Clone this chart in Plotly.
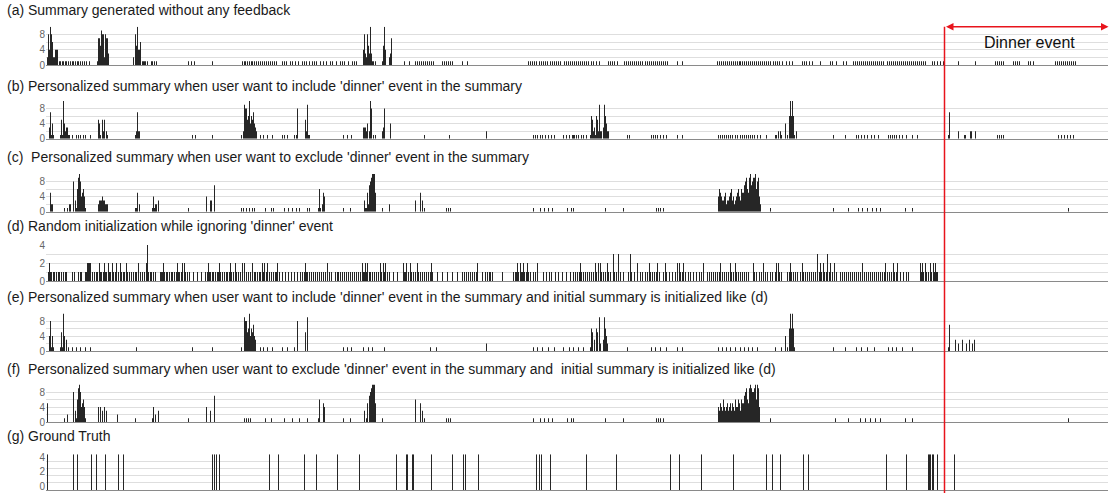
import plotly.graph_objects as go

# ---------------- data (frame index, summary count) ----------------
TITLES = [
    "(a) Summary generated without any feedback",
    "(b) Personalized summary when user want to include 'dinner' event in the summary",
    "(c)  Personalized summary when user want to exclude 'dinner' event in the summary",
    "(d) Random initialization while ignoring 'dinner' event",
    "(e) Personalized summary when user want to include 'dinner' event in the summary and initial summary is initialized like (d)",
    "(f)  Personalized summary when user want to exclude 'dinner' event in the summary and  initial summary is initialized like (d)",
    "(g) Ground Truth",
]
DINNER_START = 944
DINNER_END = 1108
DINNER_LABEL = "Dinner event"

A_X = [47, 48, 49, 50, 51, 52, 53, 54, 55, 56, 57, 97, 98, 99, 100, 101, 102, 103, 104, 105, 106, 107, 108,
       133, 135, 136, 137, 138, 139, 140, 363, 364, 365, 366, 367, 368, 369, 370, 371, 383, 384, 385, 389, 390, 391]
A_H = [2, 8, 4, 10, 8, 6, 2, 2, 4, 4, 4, 1, 7, 7, 5, 9, 8, 8, 2, 8, 7, 7, 3,
       2, 8, 5, 10, 4, 4, 6, 4, 8, 3, 2, 8, 5, 3, 10, 3, 5, 10, 4, 2, 3, 7]
A_ONES = [59, 60, 62, 63, 65, 66, 68, 70, 72, 73, 75, 77, 78, 80, 82, 84, 86, 89, 142, 143, 144, 145, 147, 151, 152,
          154, 156, 188, 191, 194, 212, 242, 244, 245, 247, 249, 251, 252, 254, 256, 258, 260, 262, 264, 266, 268,
          270, 272, 274, 276, 282, 284, 286, 290, 292, 295, 298, 302, 304, 306, 309, 312, 314, 316, 320, 323, 326,
          330, 332, 336, 340, 342, 344, 348, 352, 354, 356, 372, 373, 375, 382, 404, 409, 415, 417, 419, 421, 423,
          425, 427, 429, 431, 433, 442, 444, 446, 448, 450, 452, 462, 467, 528, 530, 532, 534, 536, 539, 541, 543,
          545, 547, 550, 552, 554, 556, 558, 560, 564, 566, 568, 570, 572, 574, 576, 578, 580, 582, 584, 586, 588,
          591, 593, 596, 599, 608, 610, 612, 614, 617, 624, 626, 628, 630, 632, 634, 636, 638, 640, 642, 645, 647,
          649, 651, 653, 655, 657, 659, 661, 663, 665, 667, 677, 682, 717, 719, 721, 723, 725, 727, 729, 731, 733,
          735, 737, 739, 740, 742, 744, 746, 748, 750, 752, 754, 756, 758, 760, 762, 764, 766, 768, 770, 773, 775,
          777, 779, 782, 786, 789, 792, 802, 804, 806, 809, 812, 820, 830, 832, 836, 843, 846, 853, 855, 857, 859,
          861, 863, 865, 867, 869, 871, 873, 875, 877, 879, 881, 883, 887, 889, 891, 893, 895, 897, 899, 901, 903,
          905, 907, 909, 911, 913, 915, 917, 919, 921, 923, 925, 932, 934, 937, 940, 943, 958, 975, 995, 997, 999,
          1001, 1003, 1013, 1015, 1017, 1019, 1028, 1030, 1033, 1055, 1057, 1059, 1061, 1063, 1065, 1067, 1069,
          1071, 1073, 1075]

B_X = [49, 50, 52, 61, 63, 64, 65, 66, 67, 98, 99, 102, 103, 104, 106, 136, 137, 138, 139,
       243, 244, 245, 246, 247, 248, 249, 250, 251, 252, 253, 254, 255, 256, 297, 305, 306, 307,
       363, 364, 365, 366, 367, 369, 370, 371, 382, 383, 384, 390, 486,
       591, 592, 593, 594, 596, 597, 598, 599, 600, 601, 603, 604, 605, 606, 607, 608,
       778, 780, 785, 789, 790, 791, 792, 793, 796, 949, 958, 970, 971, 975]
B_H = [3, 7, 4, 5, 10, 4, 2, 3, 3, 5, 4, 5, 2, 5, 2, 2, 7, 2, 2,
       2, 9, 8, 8, 5, 6, 10, 4, 6, 5, 7, 4, 3, 2, 8, 5, 2, 9,
       3, 3, 3, 2, 4, 2, 10, 8, 2, 3, 8, 4, 2,
       6, 5, 2, 3, 6, 5, 2, 9, 2, 2, 3, 9, 6, 4, 2, 2,
       2, 2, 4, 6, 10, 6, 10, 6, 2, 7, 2, 2, 2, 2]
B_ONES = [51, 53, 60, 62, 68, 69, 72, 76, 78, 80, 83, 85, 90, 100, 107, 135, 192, 195, 212, 241, 260, 263, 267,
          272, 282, 284, 287, 294, 296, 308, 309, 343, 347, 351, 373, 375, 424, 449, 533, 535, 537, 540, 542, 545,
          548, 551, 554, 563, 566, 569, 572, 573, 574, 576, 578, 581, 583, 586, 590, 595, 627, 629, 651, 653, 655,
          657, 660, 663, 666, 677, 682, 718, 720, 722, 724, 726, 728, 730, 732, 735, 737, 740, 742, 744, 746, 748,
          750, 752, 754, 757, 760, 766, 775, 776, 781, 787, 794, 833, 845, 856, 858, 861, 864, 867, 871, 874, 878,
          888, 890, 892, 894, 896, 899, 902, 906, 912, 917, 948, 964, 965, 997, 999, 1001, 1003, 1058, 1061, 1064,
          1067, 1070, 1073]

C_X = [50, 51, 52, 69, 70, 73, 75, 77, 78, 79, 80, 81, 82, 83, 84, 98, 99, 100, 101, 102, 103, 104, 105, 106, 107,
       137, 139, 153, 155, 156, 158, 206, 210, 211, 214, 319, 322, 323, 324,
       364, 367, 368, 369, 370, 371, 372, 373, 374, 375, 389, 415, 420, 422,
       718, 719, 720, 721, 722, 723, 724, 725, 726, 727, 728, 729, 730, 731, 732, 733, 734, 735, 736, 737, 738,
       739, 740, 741, 742, 743, 744, 745, 746, 747, 748, 749, 750, 751, 752, 753, 754, 755, 756, 757, 758, 759, 760]
C_H = [5, 2, 2, 2, 2, 8, 3, 6, 9, 10, 8, 4, 5, 6, 4, 2, 3, 3, 3, 4, 3, 3, 2, 2, 2,
       5, 2, 4, 2, 2, 3, 4, 3, 3, 7, 6, 2, 5, 4,
       3, 5, 2, 7, 8, 9, 10, 10, 10, 5, 2, 3, 5, 3,
       4, 6, 5, 4, 3, 3, 4, 5, 2, 3, 3, 4, 5, 6, 3, 4, 2, 3, 4, 5, 6,
       4, 3, 6, 5, 5, 7, 8, 9, 6, 5, 9, 10, 7, 8, 9, 9, 10, 6, 8, 9, 4, 2]
C_ONES = [64, 67, 76, 85, 135, 136, 152, 154, 188, 241, 243, 246, 249, 252, 254, 265, 271, 273, 284, 288, 292, 296,
          299, 307, 309, 318, 320, 343, 350, 365, 366, 382, 424, 446, 448, 450, 533, 540, 544, 548, 552, 567, 571,
          573, 605, 623, 656, 658, 660, 663, 770, 833, 848, 858, 862, 867, 872, 876, 880, 905, 912, 1068]

D_X = [49, 87, 88, 89, 90, 99, 104, 108, 112, 116, 120, 126, 138, 146, 147, 163, 177, 182, 184, 208, 219, 230,
       235, 242, 244, 252, 262, 264, 267, 277, 305, 327, 362, 365, 367, 380, 383, 385, 403, 406, 410, 417, 431,
       477, 517, 520, 523, 527, 537, 580, 595, 598, 600, 607, 613, 618, 630, 637, 649, 657, 665, 677, 679, 683,
       703, 720, 730, 735, 753, 763, 776, 778, 790, 802, 817, 820, 823, 827, 830, 834, 862, 885, 893, 897, 920,
       922, 925, 930, 933, 935]
D_H = [2, 2, 2, 2, 2, 2, 2, 2, 2, 2, 2, 2, 2, 2, 4, 2, 2, 2, 2, 2, 2, 2,
       2, 2, 2, 2, 2, 2, 2, 2, 2, 2, 2, 2, 2, 2, 2, 2, 2, 2, 2, 2, 2,
       2, 2, 2, 2, 2, 2, 2, 2, 2, 2, 2, 3, 3, 3, 2, 2, 2, 2, 2, 2, 2,
       2, 2, 2, 2, 2, 2, 2, 2, 2, 2, 3, 2, 2, 3, 2, 2, 2, 2, 2, 2, 2,
       2, 2, 2, 2, 2]
D_ONES = [48, 50, 51, 53, 54, 56, 58, 59, 61, 63, 65, 66, 72, 74, 78, 80, 81, 85, 86, 92, 94, 96, 97, 100, 101,
          103, 105, 106, 109, 110, 113, 115, 118, 121, 123, 124, 127, 129, 131, 133, 135, 136, 140, 142, 144, 148,
          150, 151, 153, 155, 160, 161, 162, 164, 166, 167, 169, 171, 172, 174, 176, 178, 179, 181, 185, 187, 189,
          193, 197, 201, 205, 207, 209, 210, 212, 213, 215, 217, 218, 220, 222, 224, 226, 227, 229, 231, 233, 236,
          238, 240, 246, 248, 250, 254, 255, 257, 259, 260, 263, 266, 269, 271, 273, 275, 276, 279, 282, 285, 288,
          291, 294, 297, 300, 302, 304, 306, 307, 309, 311, 313, 315, 317, 319, 321, 323, 325, 329, 331, 335, 337,
          338, 340, 342, 344, 346, 348, 350, 352, 354, 356, 358, 360, 363, 364, 366, 369, 370, 372, 374, 376, 378,
          381, 384, 387, 389, 393, 397, 404, 405, 408, 411, 413, 415, 418, 420, 422, 424, 426, 428, 430, 432, 437,
          442, 447, 452, 457, 462, 464, 466, 468, 470, 472, 474, 476, 482, 485, 487, 489, 490, 492, 502, 513, 515,
          516, 518, 521, 522, 524, 526, 528, 530, 533, 535, 543, 546, 549, 551, 555, 558, 562, 566, 570, 573, 575,
          577, 579, 581, 583, 585, 587, 589, 591, 593, 596, 601, 603, 605, 608, 610, 614, 616, 620, 623, 628, 631,
          634, 640, 642, 645, 647, 650, 652, 654, 656, 659, 663, 666, 669, 672, 675, 680, 682, 685, 688, 690, 693,
          696, 699, 701, 707, 709, 711, 713, 715, 717, 719, 722, 724, 726, 728, 731, 733, 736, 738, 740, 742, 744,
          746, 748, 754, 756, 759, 761, 765, 767, 770, 772, 775, 779, 781, 787, 789, 791, 793, 795, 797, 800, 803,
          805, 807, 809, 811, 813, 815, 819, 821, 824, 826, 829, 832, 836, 840, 842, 844, 846, 848, 850, 852, 854,
          856, 858, 860, 864, 866, 868, 870, 872, 874, 876, 878, 880, 882, 884, 887, 889, 891, 894, 896, 900, 903,
          906, 908, 920, 921, 923, 926, 928, 931, 934, 936, 937]

E_X = [49, 50, 52, 61, 63, 64, 66, 244, 245, 246, 247, 248, 249, 250, 251, 252, 253, 254, 255, 297, 305, 307, 486,
       591, 592, 594, 596, 597, 599, 600, 603, 604, 605, 606, 607, 785, 789, 790, 791, 792, 793,
       949, 955, 958, 962, 966, 969, 972, 974]
E_H = [4, 8, 4, 5, 10, 4, 3, 9, 8, 8, 5, 6, 10, 4, 6, 5, 7, 4, 3, 8, 5, 9, 2,
       6, 5, 3, 6, 5, 9, 2, 3, 9, 6, 4, 2, 4, 6, 10, 6, 10, 6,
       7, 3, 2, 3, 2, 3, 2, 3]
E_ONES = [51, 53, 60, 62, 68, 72, 76, 80, 85, 90, 136, 192, 212, 241, 260, 263, 267, 272, 282, 287, 294, 343, 347,
          351, 363, 368, 372, 384, 430, 436, 533, 537, 542, 548, 554, 563, 569, 573, 578, 583, 590, 627, 651, 655,
          660, 666, 677, 682, 718, 722, 726, 730, 735, 740, 744, 748, 752, 757, 775, 781, 787, 794, 833, 845, 856,
          861, 867, 874, 888, 892, 896, 902, 912, 948]

F_X = [47, 67, 73, 75, 77, 78, 79, 80, 81, 82, 83, 84, 98, 100, 102, 104, 106, 117, 153, 155, 158, 206, 210, 214,
       319, 323, 324, 364, 367, 369, 370, 371, 372, 373, 374, 375, 415, 420, 422,
       718, 719, 720, 721, 722, 723, 724, 725, 726, 727, 728, 729, 730, 731, 732, 733, 734, 735, 736, 737, 738,
       739, 740, 741, 742, 743, 744, 745, 746, 747, 748, 749, 750, 751, 752, 753, 754, 755, 756, 757, 758, 759]
F_H = [5, 2, 8, 3, 6, 9, 10, 8, 4, 5, 6, 4, 4, 4, 3, 4, 3, 2, 4, 2, 3, 4, 3, 7,
       6, 5, 4, 3, 5, 7, 8, 9, 10, 10, 10, 5, 6, 5, 3,
       4, 3, 5, 4, 3, 6, 4, 3, 4, 5, 3, 4, 5, 3, 5, 4, 3, 6, 4, 4, 6,
       5, 3, 6, 5, 5, 7, 8, 9, 6, 5, 9, 10, 9, 8, 8, 9, 10, 6, 10, 9, 4]
F_ONES = [64, 76, 85, 135, 152, 188, 244, 246, 248, 250, 265, 271, 284, 292, 299, 307, 318, 343, 350, 366, 382,
          424, 446, 448, 450, 533, 540, 544, 548, 552, 567, 571, 573, 605, 623, 656, 658, 660, 663, 770, 835, 848,
          860, 865, 870, 875, 880, 905, 912, 1068]

G_X = [47, 73, 77, 91, 96, 105, 118, 123, 212, 214, 216, 219, 269, 278, 304, 316, 337, 359, 396, 406, 407, 412,
       413, 431, 452, 463, 465, 478, 536, 539, 541, 550, 586, 616, 670, 679, 701, 733, 766, 772, 780, 803, 808,
       886, 906, 928, 929, 930, 932, 933, 937, 954]
G_H = [5, 5, 5, 5, 5, 5, 5, 5, 5, 5, 5, 5, 5, 5, 5, 5, 5, 5, 5, 5, 5, 5,
       5, 5, 5, 5, 5, 5, 5, 5, 5, 5, 5, 5, 5, 5, 5, 5, 5, 5, 5, 5, 5,
       5, 5, 5, 5, 5, 5, 5, 5, 5]

# ---------------- layout geometry (pixels of the 1110x493 canvas) ----------------
W, H = 1110, 493
PX_LEFT, PX_RIGHT = 46, 1108          # plot area in canvas pixels
X_LEFT = PX_LEFT - 0.5                # axis value at the left edge (frame v fills pixel column v)
X_RIGHT = PX_RIGHT - 0.5
FONT = "Liberation Sans, Arial, sans-serif"

# (title y, axis top y, axis zero y, y max, major ticks, minor step, tick label shift)
GEOM = [
    (10, 26.7, 65.0, 10, [0, 4, 8], 2, 0),
    (86, 101.0, 138.7, 10, [0, 4, 8], 2, 0),
    (157, 174.0, 211.7, 10, [0, 4, 8], 2, 0),
    (226, 245.0, 281.0, 4, [0, 2, 4], 1, 0),
    (297, 313.5, 351.0, 10, [0, 4, 8], 2, 0),
    (369, 384.5, 422.0, 10, [0, 4, 8], 2, 0),
    (436, 454.3, 490.0, 5, [0, 2, 4], 1, -4),
]

SERIES = [
    (A_X, A_H, A_ONES), (B_X, B_H, B_ONES), (C_X, C_H, C_ONES), (D_X, D_H, D_ONES),
    (E_X, E_H, E_ONES), (F_X, F_H, F_ONES), (G_X, G_H, []),
]

fig = go.Figure()
layout = dict(
    width=W, height=H, margin=dict(l=0, r=0, t=0, b=0, pad=0, autoexpand=False),
    paper_bgcolor="white", plot_bgcolor="white", showlegend=False, barmode="overlay",
    font=dict(family=FONT, color="#222"),
)
annotations = []
for i, ((tx, th, ones), (ty, top, zero, ymax, ticks, minor, shift)) in enumerate(zip(SERIES, GEOM), start=1):
    xs = list(tx) + list(ones)
    ys = list(th) + [1 for _ in ones]
    sfx = "" if i == 1 else str(i)
    fig.add_trace(go.Bar(
        x=xs, y=ys, width=1.0, marker=dict(color="#262626", line=dict(width=0)),
        xaxis="x" + sfx, yaxis="y" + sfx, hoverinfo="skip",
    ))
    layout["xaxis" + sfx] = dict(
        domain=[PX_LEFT / W, PX_RIGHT / W], range=[X_LEFT, X_RIGHT], anchor="y" + sfx,
        showticklabels=False, showgrid=False, zeroline=False, ticks="", automargin=False,
        showline=True, linecolor="#8a8a8a", linewidth=1,
    )
    layout["yaxis" + sfx] = dict(
        domain=[1 - zero / H, 1 - top / H], range=[0, ymax], anchor="x" + sfx,
        tickmode="array", tickvals=ticks, ticks="", ticklen=0, automargin=False,
        ticklabeloverflow="allow", ticklabelshift=shift,
        tickfont=dict(size=10, color="#666", family=FONT),
        showgrid=True, gridcolor="#dedede", gridwidth=1, zeroline=False, showline=False,
        minor=dict(dtick=minor, tick0=0, showgrid=True, gridcolor="#dedede", gridwidth=1),
    )
    annotations.append(dict(
        text=TITLES[i - 1], xref="paper", yref="paper", x=5 / W, y=1 - ty / H,
        xanchor="left", yanchor="middle", showarrow=False,
        font=dict(size=14, color="#1a1a1a", family=FONT),
    ))

ARROW_Y = 1 - 26.7 / H
annotations.append(dict(
    x=DINNER_END, y=ARROW_Y, xref="x", yref="paper", ax=DINNER_START, ay=0,
    axref="x", ayref="pixel", text="", showarrow=True, arrowside="end+start",
    arrowhead=2, arrowsize=1, arrowwidth=1.5, arrowcolor="#e8141c",
))
annotations.append(dict(
    text=DINNER_LABEL, x=(DINNER_START + DINNER_END) / 2 + 3, y=1 - 42 / H, xref="x", yref="paper",
    showarrow=False, xanchor="center", yanchor="middle", font=dict(size=16, color="#111", family=FONT),
))
layout["annotations"] = annotations
layout["shapes"] = [dict(
    type="line", xref="x", yref="paper", x0=DINNER_START, x1=DINNER_START, y0=0, y1=ARROW_Y,
    line=dict(color="#e8141c", width=1.5), layer="above",
)]
fig.update_layout(**layout)
fig.write_html(
    "out.html",
    config={"displayModeBar": False},
    post_script="document.body.style.margin='0';document.body.style.overflow='hidden';",
)
